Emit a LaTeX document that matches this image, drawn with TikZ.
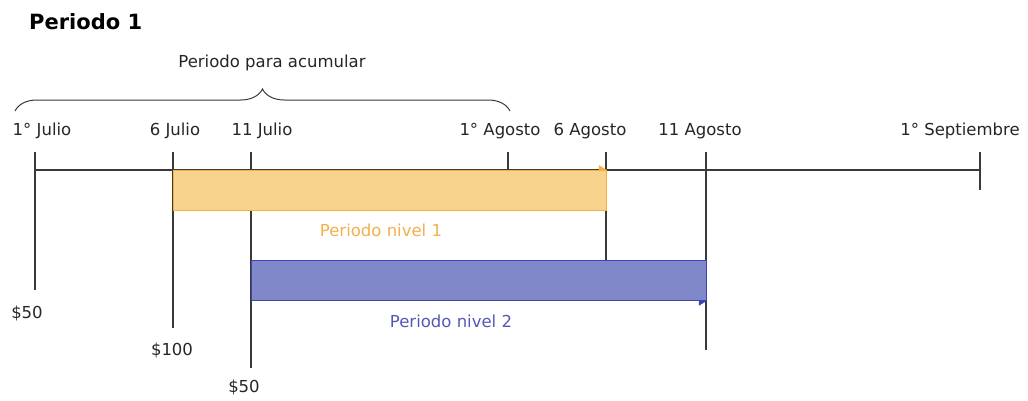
\documentclass[tikz,border=0pt]{standalone}
\usepackage{fontspec}
\setmainfont{DejaVu Sans}
\usetikzlibrary{decorations.pathreplacing}
\definecolor{orfill}{HTML}{F8D38E}
\definecolor{ordraw}{HTML}{F5B040}
\definecolor{orrtext}{HTML}{F4B04A}
\definecolor{blfill}{HTML}{8088C9}
\definecolor{bldraw}{HTML}{3C44B2}
\definecolor{bltext}{HTML}{5559B5}
\definecolor{lncol}{HTML}{3A3A3A}
\begin{document}
\begin{tikzpicture}[x=1pt,y=-1pt,
  lbl/.style={font=\fontsize{16.5}{19}\selectfont, text=black!85, inner sep=0pt},
  tick/.style={draw=lncol, line width=1.2pt},
  orbar/.style={fill=orfill, draw=ordraw, line width=0.8pt},
  blbar/.style={fill=blfill, draw=bldraw, line width=0.8pt}]
\useasboundingbox[fill=white] (0,0) rectangle (1028,400);
% title
\node[font=\bfseries\fontsize{21}{24}\selectfont, anchor=west, inner sep=0pt] (title) at (29,22) {Periodo 1};
\node[lbl] (acum) at (272,63) {Periodo para acumular};
\coordinate (bl) at (15,111);
\coordinate (br) at (510,111);
\draw[lncol, line width=1pt, decorate, decoration={brace, amplitude=22pt}] (bl) -- (br);
% date labels
\node[lbl] (d1) at (42,131) {1° Julio};
\node[lbl] (d2) at (175,131) {6 Julio};
\node[lbl] (d3) at (262,131) {11 Julio};
\node[lbl] (d4) at (500,131) {1° Agosto};
\node[lbl] (d5) at (590,131) {6 Agosto};
\node[lbl] (d6) at (700,131) {11 Agosto};
\node[lbl] (d7) at (960,131) {1° Septiembre};
% tick endpoints
\coordinate (t1a) at (35,152);  \coordinate (t1b) at (35,290);
\coordinate (t2a) at (173,152); \coordinate (t2b) at (173,328);
\coordinate (t3a) at (251,152); \coordinate (t3b) at (251,368);
\coordinate (t4a) at (508,152); \coordinate (t4b) at (508,170);
\coordinate (t5a) at (606,152); \coordinate (t5b) at (606,260);
\coordinate (t6a) at (706,152); \coordinate (t6b) at (706,350);
\coordinate (t7a) at (980,152); \coordinate (t7b) at (980,190);
\coordinate (axL) at (35,170);  \coordinate (axR) at (980,170);
% axis and ticks
\draw[tick] (axL) -- (axR);
\foreach \i in {1,...,7} {\draw[tick] (t\i a) -- (t\i b);}
% bars
\node[orbar, minimum width=433pt, minimum height=40pt, inner sep=0pt, anchor=north west] (bar1) at (173,170) {};
\node[blbar, minimum width=455pt, minimum height=40pt, inner sep=0pt, anchor=north west] (bar2) at (251,260) {};
% bar arrowheads
\fill[ordraw] (bar1.north east) -- ++(-8,0) -- ++(0,-5) -- cycle;
\fill[bldraw] (bar2.south east) -- ++(-8,0) -- ++(0,5) -- cycle;
% bar labels
\node[lbl, text=orrtext] (n1) at (381,230) {Periodo nivel 1};
\node[lbl, text=bltext] (n2) at (451,321) {Periodo nivel 2};
% amounts
\node[lbl] (m1) at (27,313) {\$50};
\node[lbl] (m2) at (172,350) {\$100};
\node[lbl] (m3) at (244,387) {\$50};
\end{tikzpicture}
\end{document}
